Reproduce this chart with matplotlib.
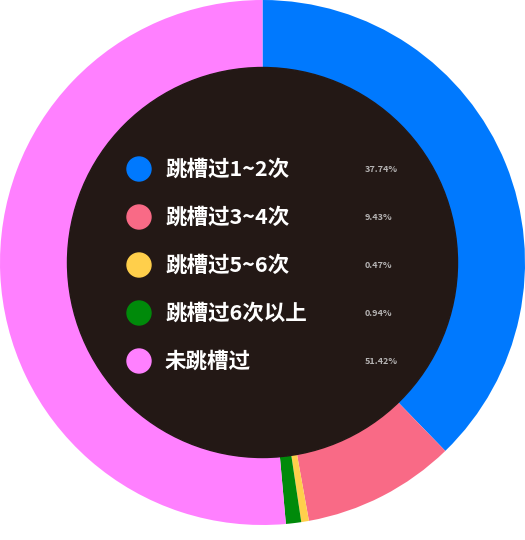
import matplotlib
matplotlib.use('Agg')
import matplotlib.pyplot as plt
from matplotlib.patches import Circle

plt.rcParams['font.family'] = ['Noto Sans CJK SC', 'DejaVu Sans']

# data (clockwise from 12 o'clock)
labels = ['跳槽过1~2次', '跳槽过3~4次', '跳槽过5~6次', '跳槽过6次以上', '未跳槽过']
shares = [37.74, 9.43, 0.47, 0.94, 51.42]
pct_text = ['37.74%', '9.43%', '0.47%', '0.94%', '51.42%']
colors = ['#0079fe', '#f96a86', '#ffcf4b', '#008a0a', '#ff80ff']

W, H = 525, 540
R = 262.5  # outer radius in px, center at (262.5, 262.5) from top-left

fig = plt.figure(figsize=(W / 100, H / 100), dpi=100)
ax = fig.add_axes([0, (H - 2 * R) / H, 2 * R / W, 2 * R / H])
ax.set_xlim(-1, 1)
ax.set_ylim(-1, 1)
ax.set_aspect('equal')
ax.axis('off')

inner = 195 / R
ax.pie(shares, colors=colors, startangle=90, counterclock=False, radius=1,
       wedgeprops=dict(width=1 - inner, linewidth=0))
ax.add_patch(Circle((0, 0), inner, color='#231815', zorder=3))
ax.set_xlim(-1, 1)
ax.set_ylim(-1, 1)


def px(x, y):
    return (x - R) / R, (R - y) / R


for i, (lab, pct, col) in enumerate(zip(labels, pct_text, colors)):
    yy = 169 + i * 48
    cx, cy = px(139, yy)
    ax.add_patch(Circle((cx, cy), 12 / R, color=col, zorder=4))
    tx, ty = px(165, yy)
    ax.text(tx, ty, lab, color='white', fontsize=15.5, fontweight='bold',
            va='center', ha='left', zorder=5)
    qx, qy = px(365, yy + 1)
    ax.text(qx, qy, pct, color='#b5b3b3', fontsize=6.5, fontweight='bold',
            va='center', ha='left', zorder=5)

fig.savefig('out.png', dpi=100, facecolor='white')
